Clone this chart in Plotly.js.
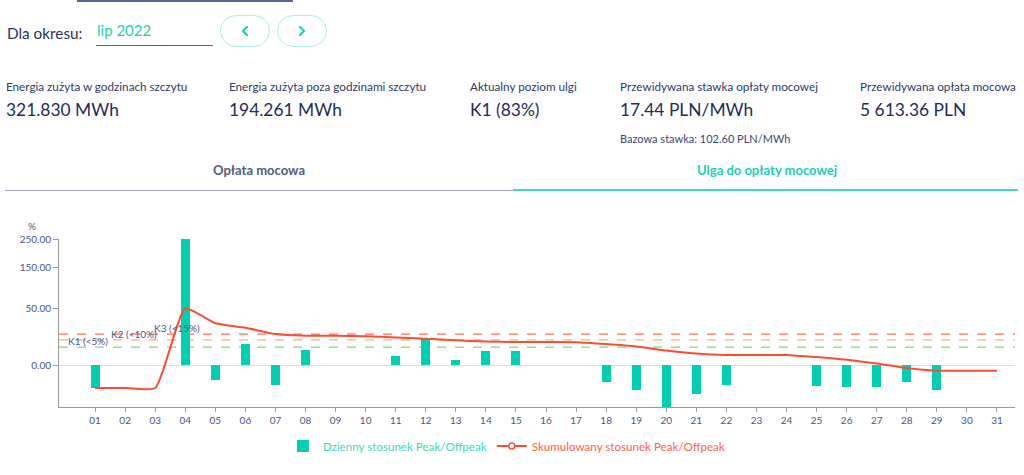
<!DOCTYPE html>
<html>
<head>
<meta charset="utf-8">
<script src="https://cdn.plot.ly/plotly-3.0.1.min.js"></script>
<style>
  html, body { margin:0; padding:0; background:#fff; }
  body { width:1024px; height:475px; position:relative; overflow:hidden; font-family: Lato, "Noto Sans", sans-serif; color:#2d3a66; }
  .abs { position:absolute; white-space:nowrap; }
  .topline { left:77px; top:0; width:216px; height:2px; background:#5a6690; }
  .period { left:7px; top:24px; font-size:15.3px; color:#253461; }
  .sel { left:96px; top:21px; width:116px; height:24px; border-bottom:1px solid #5a6690; font-size:15px; color:#1ccfb5; padding-left:1px; }
  .btn { top:15px; width:48px; height:30px; border:1px solid #aeeee3; border-radius:16px; }
  .btn svg { position:absolute; left:20px; top:10px; }
  .lbl { top:79px; font-size:11.7px; color:#2d3a66; }
  .val { top:99px; font-size:17.4px; color:#1f2b5a; }
  .base { left:620px; top:132px; font-size:11px; color:#3a4670; }
  .tab { top:162px; font-size:13px; font-weight:bold; }
  .tabline { top:190px; height:1px; }
  #chart { position:absolute; left:0; top:200px; width:1024px; height:275px; }
</style>
</head>
<body>
<div class="abs topline"></div>
<div class="abs period">Dla okresu:</div>
<div class="abs sel">lip 2022</div>
<div class="abs btn" style="left:220px;"><svg width="8" height="10"><polyline points="6,1 2,5 6,9" fill="none" stroke="#1ccfb5" stroke-width="2.2" stroke-linecap="round" stroke-linejoin="round"/></svg></div>
<div class="abs btn" style="left:277px;"><svg width="8" height="10"><polyline points="2,1 6,5 2,9" fill="none" stroke="#1ccfb5" stroke-width="2.2" stroke-linecap="round" stroke-linejoin="round"/></svg></div>

<div class="abs lbl" style="left:6px;">Energia zużyta w godzinach szczytu</div>
<div class="abs val" style="left:6px;">321.830 MWh</div>
<div class="abs lbl" style="left:229px;">Energia zużyta poza godzinami szczytu</div>
<div class="abs val" style="left:229px;">194.261 MWh</div>
<div class="abs lbl" style="left:470px;">Aktualny poziom ulgi</div>
<div class="abs val" style="left:470px;">K1 (83%)</div>
<div class="abs lbl" style="left:620px;">Przewidywana stawka opłaty mocowej</div>
<div class="abs val" style="left:620px;">17.44 PLN/MWh</div>
<div class="abs base">Bazowa stawka: 102.60 PLN/MWh</div>
<div class="abs lbl" style="left:860px;">Przewidywana opłata mocowa</div>
<div class="abs val" style="left:860px;">5 613.36 PLN</div>

<div class="abs tab" style="left:5px; width:508px; text-align:center; color:#505b86;">Opłata mocowa</div>
<div class="abs tab" style="left:513px; width:508px; text-align:center; color:#1ccfb5;">Ulga do opłaty mocowej</div>
<div class="abs tabline" style="left:5px; width:508px; background:#a5a9bd;"></div>
<div class="abs tabline" style="left:513px; width:505px; height:2px; top:189px; background:#3fd9c4;"></div>

<div id="chart"></div>

<script>
// ---- data ----
var days = [1,2,3,4,5,6,7,8,9,10,11,12,13,14,15,16,17,18,19,20,21,22,23,24,25,26,27,28,29,30,31];
var dayLabels = ['01','02','03','04','05','06','07','08','09','10','11','12','13','14','15','16','17','18','19','20','21','22','23','24','25','26','27','28','29','30','31'];
var dailyRatio = [-8.3, null, null, 250, -3.5, 7.1, -6.3, 3.5, null, null, 1.4, 10.3, 0.45, 2.9, 2.9, null, null, -4.4, -9.8, -28, -13.6, -6.5, null, null, -6.9, -7.6, -7.4, -4.5, -9.6, null, null];
var cumulativeRatio = [-8.3, -8.3, -8.3, 50, 27.5, 21.8, 15.1, 13.6, 13.6, 13.0, 12.0, 10.9, 9.6, 8.8, 8.3, 8.3, 8.2, 6.9, 5.4, 3.3, 2.1, 1.6, 1.6, 1.6, 1.0, 0.45, 0.04, -0.15, -0.5, -0.5, -0.5];
var yTickValues = [0, 50, 150, 250];
var yTickLabels = ['0.00', '50.00', '150.00', '250.00'];
var levelValues = [5, 10, 15];
var levelLabels = ['K1 (<5%)', 'K2 (<10%)', 'K3 (<15%)'];
var levelColors = ['#8ccf86', '#ffb07a', '#ff6f5e'];
var seriesNames = ['Dzienny stosunek Peak/Offpeak', 'Skumulowany stosunek Peak/Offpeak'];

// symmetric square-root scale used by the chart's y axis
function sq(v) { return v === null ? null : (v < 0 ? -Math.sqrt(-v) : Math.sqrt(v)); }

var barTrace = {
  type: 'bar', x: days, y: dailyRatio.map(sq), width: 0.3,
  marker: { color: '#00cfb1', line: { width: 0 } },
  name: '<span style="color:#3fd8c1">' + seriesNames[0] + '</span>',
  hoverinfo: 'skip'
};
var lineTrace = {
  type: 'scatter', mode: 'lines+markers', x: days, y: cumulativeRatio.map(sq),
  line: { color: '#ff4b36', width: 2, shape: 'spline', smoothing: 0.5 },
  marker: { symbol: 'circle', size: 6, color: '#ffffff', line: { color: '#ff4b36', width: 1.5 } },
  selectedpoints: [],
  unselected: { marker: { opacity: 0 } },
  name: '<span style="color:#ff5f4c">' + seriesNames[1] + '</span>',
  hoverinfo: 'skip'
};

var shapes = levelValues.map(function (v, i) {
  return { type: 'line', xref: 'paper', x0: 0, x1: 1, yref: 'y', y0: sq(v), y1: sq(v),
           line: { color: levelColors[i], width: 1.2, dash: 'dash' }, layer: 'below' };
});
var labelX = [0.04, 1.46, 2.9];
var annotations = levelValues.map(function (v, i) {
  return { x: labelX[i], xref: 'x', xanchor: 'left', y: sq(v), yref: 'y', yanchor: 'bottom',
           yshift: -2, text: levelLabels[i], showarrow: false,
           font: { family: 'Lato, sans-serif', size: 10, color: '#4a5683' } };
});
annotations.push({ x: -0.028, xref: 'paper', y: 1.03, yref: 'paper', yanchor: 'bottom', xanchor: 'center',
  text: '%', showarrow: false, font: { family: 'Lato, sans-serif', size: 10, color: '#4a5683' } });

var layout = {
  width: 1024, height: 275,
  margin: { l: 59, r: 9, t: 39, b: 68 },
  paper_bgcolor: '#ffffff', plot_bgcolor: '#ffffff',
  font: { family: 'Lato, sans-serif', size: 10, color: '#4a5683' },
  showlegend: true,
  legend: { orientation: 'h', x: 0.468, xanchor: 'center', y: -0.232, yanchor: 'middle',
            font: { size: 11.6, family: 'Lato, sans-serif' }, itemwidth: 30, tracegroupgap: 0 },
  xaxis: { range: [-0.2, 31.6], tickvals: days, ticktext: dayLabels, showgrid: false, zeroline: false,
           showline: true, linecolor: '#9a9a9a', linewidth: 1, ticks: 'outside', ticklen: 4, tickcolor: '#9a9a9a',
           tickfont: { size: 10, color: '#4a5683' }, fixedrange: true },
  yaxis: { range: [sq(-27.7), sq(250)], tickvals: yTickValues.map(sq), ticktext: yTickLabels,
           showgrid: false, zeroline: true, zerolinecolor: '#dcdcdc', zerolinewidth: 1,
           showline: true, linecolor: '#9a9a9a', linewidth: 1, ticks: 'outside', ticklen: 5, tickcolor: '#9a9a9a',
           tickfont: { size: 10, color: '#4a5683' }, fixedrange: true },
  shapes: shapes, annotations: annotations, bargap: 0
};

Plotly.newPlot('chart', [barTrace, lineTrace], layout, { displayModeBar: false, staticPlot: true });
</script>
</body>
</html>
